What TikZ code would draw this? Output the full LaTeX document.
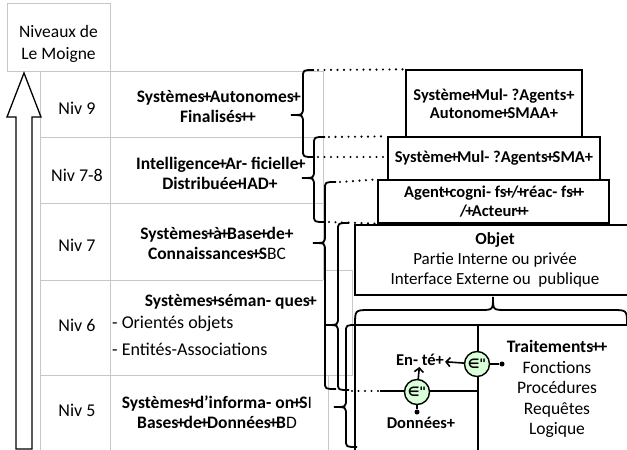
\documentclass[tikz,border=0pt]{standalone}
\usepackage{fontspec}
\setmainfont{Carlito}
\newfontfamily\dejavu{DejaVu Sans}
\usetikzlibrary{arrows.meta}
\newcommand\pp{\makebox[0.3em][c]{+}}
\newcommand\bracel[4]{%
 \draw[brc] ({#1+11},#2) .. controls (#1,#2) .. (#1,{#2+7}) -- (#1,{#3-8}) .. controls (#1,#3) .. ({#1-12},#3) .. controls (#1,#3) .. (#1,{#3+8}) -- (#1,{#4-7}) .. controls (#1,#4) .. ({#1+11},#4);}
\begin{document}
\begin{tikzpicture}[x=1pt,y=-1pt,
  grid/.style={draw=black!22, line width=0.8pt},
  brc/.style={draw=black, line width=1.8pt},
  dotl/.style={draw=black, line width=2.4pt, dash pattern=on 0pt off 6.5pt, line cap=round},
  sbox/.style={draw=black, line width=1.3pt, fill=white, inner sep=0pt, align=center, font=\fontsize{16.5}{18}\selectfont\bfseries},
  cell/.style={align=center, inner sep=0pt, font=\fontsize{17.5}{20}\selectfont\bfseries},
  nivl/.style={inner sep=0pt, font=\fontsize{18}{21}\selectfont},
  gc/.style={circle, draw=black, line width=1.4pt, fill=green!15, minimum size=25pt, inner sep=0pt, font=\dejavu\bfseries\fontsize{13}{13}\selectfont},
  dotn/.style={circle, fill=black, minimum size=5pt, inner sep=0pt},
  arr/.style={draw=black, line width=1.6pt, -{Straight Barb[length=4pt,width=9pt,line width=1.6pt]}},
  ln/.style={draw=black, line width=1.6pt}]
\useasboundingbox (0,0) rectangle (627,450);
\fill[white] (0,0) rectangle (627,450);
% ---- left table
\draw[grid] (40,71) -- (323,71) (40,137) -- (323,137) (40,203) -- (323,203) (40,280) -- (323,280);
\draw[grid] (40,71) -- (40,450) (110,71) -- (110,450) (323,71) -- (323,280);
\draw[grid] (323,270) -- (352,270) -- (352,375) -- (40,375);
\draw[grid] (328,375) -- (328,450);
\node[draw=black!22, line width=0.8pt, fill=white, minimum width=103pt, minimum height=68pt, inner sep=0pt] (nivbox) at (58.5,37) {};
\node[align=center, inner sep=0pt, font=\fontsize{17.5}{22}\selectfont] (nivt) at (58.5,44) {Niveaux de\\Le Moigne};
% big hollow arrow
\draw[black, line width=1.3pt, fill=white] (24,73) -- (41,117) -- (32,117) -- (32,449) -- (16,449) -- (16,117) -- (7,117) -- cycle;
% level labels
\node[nivl] (n9) at (77,108) {Niv 9};
\node[nivl] (n78) at (77,175) {Niv 7-8};
\node[nivl] (n7) at (77,245) {Niv 7};
\node[nivl] (n6) at (77,325) {Niv 6};
\node[nivl] (n5) at (77,410) {Niv 5};
\node[cell] (c9) at (218,107) {Systèmes\pp Autonomes\pp\\Finalisés\pp+};
\node[cell] (c78) at (220,173) {Intelligence\pp Ar- ficielle\pp\\Distribuée\pp IAD+};
\node[cell] (c7) at (217,243) {Systèmes\pp à\pp Base\pp de+\\Connaissances\pp S\mdseries BC};
\node[cell] (c6) at (230,302) {Systèmes\pp séman- ques\pp};
\node[inner sep=0pt, anchor=west, font=\fontsize{18}{21}\selectfont] (c6a) at (112,324) {- Orientés objets};
\node[inner sep=0pt, anchor=west, font=\fontsize{18}{21}\selectfont] (c6b) at (112,349) {- Entités-Associations};
\node[cell] (c5) at (217,412) {Systèmes\pp d’informa- on\pp S\mdseries I\\\bfseries Bases\pp de\pp Données\pp B\mdseries D};
% ---- right stacked boxes
\node[sbox, minimum width=176pt, minimum height=67pt] (smaa) at (494,103.5) {Système\pp Mul- ?Agents+\\Autonome\pp SMAA+};
\node[sbox, minimum width=212pt, minimum height=43pt] (sma) at (494,158.5) {Système\pp Mul- ?Agents\pp SMA+};
\node[sbox, minimum width=231pt, minimum height=43pt, font=\fontsize{16.5}{19}\selectfont\bfseries] (agent) at (493.5,201.5) {Agent\pp cogni- fs\pp/\pp réac- fs\pp\pp\\/\pp Acteur\pp\pp};
\node[draw=black, line width=1.3pt, fill=white, minimum width=280pt, minimum height=70pt, inner sep=0pt, align=center, font=\fontsize{17}{20}\selectfont] (objet) at (495,260) {\bfseries Objet\\Partie Interne ou privée\\Interface Externe ou\ \ publique};
% brace under Objet
\draw[brc] (355,325) .. controls (355,310) .. (370,310) -- (480,310) .. controls (493,310) .. (493,297) .. controls (493,310) .. (506,310) -- (612,310) .. controls (627,310) .. (627,325);
% grid of object internals
\coordinate (gtl) at (355,325);
\coordinate (gtr) at (640,325);
\coordinate (gbl) at (355,452);
\coordinate (gmt) at (478,325);
\coordinate (gmb) at (478,452);
\coordinate (hl) at (380,391);
\coordinate (hr) at (478,391);
\draw[ln, line width=1.4pt] (gtl) -- (gtr) (gtl) -- (gbl) (gmt) -- (gmb) (hl) -- (hr);
% ---- braces
\bracel{303}{70}{115}{157}
\bracel{314}{137}{178}{222}
\bracel{325}{182}{243}{389}
\bracel{338}{223}{325}{390}
\bracel{346}{325}{407}{447}
% dotted leaders
\coordinate (b1t) at (318,70);
\coordinate (b1b) at (318,157);
\coordinate (b2t) at (329,137);
\coordinate (b2b) at (329,222);
\coordinate (b3t) at (340,182);
\coordinate (b4b) at (352,391);
\coordinate (sm) at (388,157);
\draw[dotl] (b1t) -- (smaa.north west);
\draw[dotl] (b1b) -- (sm);
\draw[dotl] (b2t) -- (sma.north west);
\draw[dotl] (b2b) -- (agent.south west);
\draw[dotl] (b3t) -- (agent.north west);
\draw[dotl] (b4b) -- (hl);
% ---- contents
\node[inner sep=1pt, font=\fontsize{16.5}{18}\selectfont\bfseries] (ent) at (420,360) {En- té+};
\node[inner sep=1pt, font=\fontsize{16.5}{18}\selectfont\bfseries] (don) at (421,423) {Données+};
\node[align=center, inner sep=0pt, font=\fontsize{17.5}{20.5}\selectfont] (trt) at (557,389) {\bfseries Traitements\pp+\\Fonctions\\Procédures\\Requêtes\\Logique};
\node[gc] (g1) at (477,364) {∈"};
\node[gc] (g2) at (417,392) {∈"};
\node[dotn] (d1) at (502,364) {};
\node[dotn] (d2) at (417,412) {};
\draw[ln] (d1) -- (g1);
\draw[ln] (d2) -- (g2);
\draw[arr] (g1) -- (ent);
\draw[arr] (g2) -- (ent);
\end{tikzpicture}
\end{document}
